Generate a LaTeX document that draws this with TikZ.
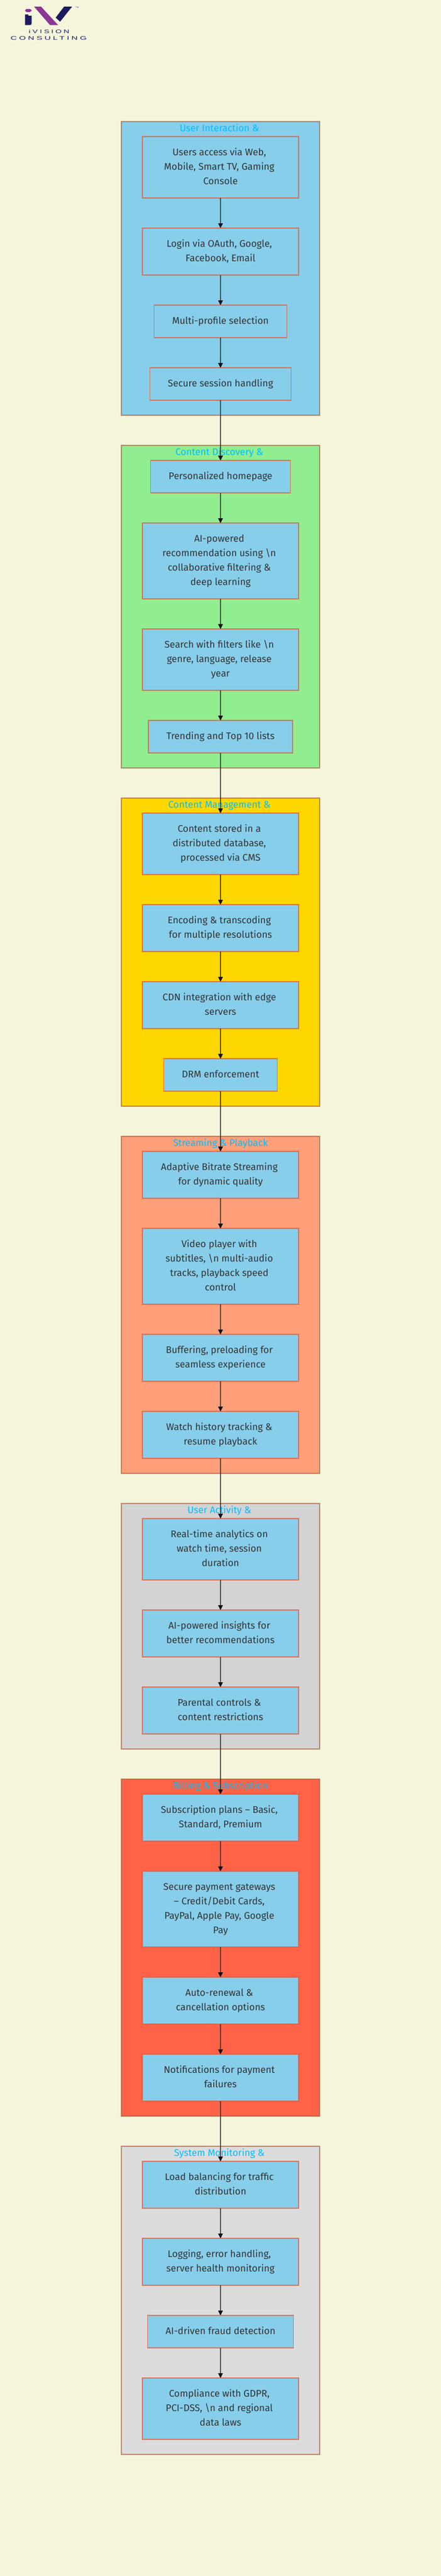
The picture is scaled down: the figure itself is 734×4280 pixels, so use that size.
\documentclass[tikz,border=0pt]{standalone}
\usepackage{fontspec}
\setmainfont{Fira Sans}
\newfontfamily\logofont[LetterSpace=25]{Liberation Sans}
\usetikzlibrary{positioning,arrows.meta}
\definecolor{pagecream}{HTML}{F5F5DC}
\definecolor{skyfill}{HTML}{87CEEB}
\definecolor{greenfill}{HTML}{90EE90}
\definecolor{goldfill}{HTML}{FFD700}
\definecolor{salmonfill}{HTML}{FFA07A}
\definecolor{grayfill}{HTML}{D3D3D3}
\definecolor{tomatofill}{HTML}{FF6347}
\definecolor{palefill}{HTML}{DCDCDC}
\definecolor{boxline}{HTML}{E8552F}
\definecolor{groupline}{HTML}{A0522D}
\definecolor{titleblue}{HTML}{00BFFF}
\definecolor{bodyink}{HTML}{333333}
\definecolor{tipink}{HTML}{10101C}
\definecolor{logonavy}{HTML}{1B1B5E}
\definecolor{logopurple}{HTML}{8B3594}
\newcommand{\wrapbr}{\kern3pt\strut\\\strut}

\begin{document}
\begin{tikzpicture}[
  x=.75pt,y=.75pt,
  node distance=37.5pt,
  every node/.style={outer sep=0pt,font=\fontsize{12}{18}\selectfont},
  groupbox/.style={draw=groupline,draw opacity=.6,line width=1.5pt,minimum width=247.5pt,inner sep=0pt},
  grouptitle/.style={text=titleblue,inner sep=0pt,execute at begin node=\strut},
  stepbox/.style={draw=boxline,draw opacity=.7,line width=1.1pt,fill=skyfill,text=bodyink,align=center,
    inner xsep=22.5pt,inner ysep=11.25pt,execute at begin node=\strut,execute at end node=\strut},
  widebox/.style={stepbox,minimum width=195pt},
  logotext/.style={text=logonavy,inner sep=0pt,font=\logofont\fontsize{6.4}{7}\selectfont},
  every path/.style={>={Triangle[length=6pt,width=6pt,fill=tipink,line width=0pt]}},
  flow/.style={->,draw=bodyink,draw opacity=.75,line width=.85pt},
  ]
  \useasboundingbox (0,0) rectangle (734,-4280);
  \fill[pagecream] (0,0) rectangle (734,-4280);
  % logo
  \fill[logopurple] (56.7,-11) -- (68.3,-11) -- (96.7,-41.7) -- (83.3,-41.7) -- cycle;
  \fill[logonavy] (106.7,-11) -- (120,-11) -- (100,-36) -- (92.7,-29.3) -- cycle;
  \fill[logopurple] (41.5,-17.3) -- (44,-15) -- (50,-15) -- (52.8,-17.3) -- (50,-20) -- (44,-20) -- cycle;
  \fill[logonavy] (41.5,-24) -- (41.5,-41.7) -- (50,-41.7) to[out=0,in=-90] (52.5,-39) -- (52.5,-26) -- (47,-26) -- (47,-24) -- cycle;
  \node[logotext,xscale=1.55] (ivision) at (81.7,-52.3) {iVISION};
  \node[logotext,xscale=1.7] (consulting) at (81,-63.3) {CONSULTING};
  \node[text=logonavy,inner sep=0pt,font=\logofont\fontsize{2.4}{3}\selectfont] (tm) at (128.3,-12.3) {TM};

  % user interaction
  \node[groupbox,fill=skyfill,minimum height=366pt,anchor=north] (g1) at (367,-202) {};
  \node[grouptitle,below=-.375pt of g1.north] (t1) {User Interaction \&\kern2.7pt};
  \node[widebox,below=18.75pt of g1.north] (access) {Users access via Web,\wrapbr Mobile, Smart TV, Gaming\wrapbr Console};
  \node[widebox,below=of access] (login) {Login via OAuth, Google,\wrapbr Facebook, Email};
  \node[stepbox,below=of login] (profile) {Multi-profile selection};
  \node[stepbox,below=of profile] (session) {Secure session handling};

  % content discovery
  \node[groupbox,fill=greenfill,minimum height=402pt,below=of g1] (g2) {};
  \node[grouptitle,below=-.375pt of g2.north] (t2) {Content Discovery \&\kern2.7pt};
  \node[stepbox,below=18.75pt of g2.north] (home) {Personalized homepage};
  \node[widebox,below=of home] (recommend) {AI-powered\wrapbr recommendation using \textbackslash n\wrapbr collaborative filtering \&\wrapbr deep learning};
  \node[widebox,below=of recommend] (search) {Search with filters like \textbackslash n\wrapbr genre, language, release\wrapbr year};
  \node[stepbox,below=of search] (trending) {Trending and Top 10 lists};

  % content management
  \node[groupbox,fill=goldfill,minimum height=384pt,below=of g2] (g3) {};
  \node[grouptitle,below=-.375pt of g3.north] (t3) {Content Management \&\kern2.7pt};
  \node[widebox,below=18.75pt of g3.north] (stored) {Content stored in a\wrapbr distributed database,\wrapbr processed via CMS};
  \node[widebox,below=of stored] (encoding) {Encoding \& transcoding\wrapbr for multiple resolutions};
  \node[widebox,below=of encoding] (cdn) {CDN integration with edge\wrapbr servers};
  \node[stepbox,below=of cdn] (drm) {DRM enforcement};

  % streaming
  \node[groupbox,fill=salmonfill,minimum height=420pt,below=of g3] (g4) {};
  \node[grouptitle,below=-.375pt of g4.north] (t4) {Streaming \& Playback};
  \node[widebox,below=18.75pt of g4.north] (bitrate) {Adaptive Bitrate Streaming\wrapbr for dynamic quality};
  \node[widebox,below=of bitrate] (player) {Video player with\wrapbr subtitles, \textbackslash n multi-audio\wrapbr tracks, playback speed\wrapbr control};
  \node[widebox,below=of player] (buffer) {Buffering, preloading for\wrapbr seamless experience};
  \node[widebox,below=of buffer] (history) {Watch history tracking \&\wrapbr resume playback};

  % user activity
  \node[groupbox,fill=grayfill,minimum height=306pt,below=of g4] (g5) {};
  \node[grouptitle,below=-.375pt of g5.north] (t5) {User Activity \&\kern2.7pt};
  \node[widebox,below=18.75pt of g5.north] (analytics) {Real-time analytics on\wrapbr watch time, session\wrapbr duration};
  \node[widebox,below=of analytics] (insights) {AI-powered insights for\wrapbr better recommendations};
  \node[widebox,below=of insights] (parental) {Parental controls \&\wrapbr content restrictions};

  % billing
  \node[groupbox,fill=tomatofill,minimum height=420pt,below=of g5] (g6) {};
  \node[grouptitle,below=-.375pt of g6.north] (t6) {Billing \& Subscription};
  \node[widebox,below=18.75pt of g6.north] (plans) {Subscription plans -- Basic,\wrapbr Standard, Premium};
  \node[widebox,below=of plans] (gateways) {Secure payment gateways\wrapbr -- Credit/Debit Cards,\wrapbr PayPal, Apple Pay, Google\wrapbr Pay};
  \node[widebox,below=of gateways] (renewal) {Auto-renewal \&\wrapbr cancellation options};
  \node[widebox,below=of renewal] (notify) {Notifications for payment\wrapbr failures};

  % system monitoring
  \node[groupbox,fill=palefill,minimum height=384pt,below=of g6] (g7) {};
  \node[grouptitle,below=-.375pt of g7.north] (t7) {System Monitoring \&\kern2.7pt};
  \node[widebox,below=18.75pt of g7.north] (balance) {Load balancing for traffic\wrapbr distribution};
  \node[widebox,below=of balance] (logging) {Logging, error handling,\wrapbr server health monitoring};
  \node[stepbox,below=of logging] (fraud) {AI-driven fraud detection};
  \node[widebox,below=of fraud] (compliance) {Compliance with GDPR,\wrapbr PCI-DSS, \textbackslash n and regional\wrapbr data laws};

  \path[flow]
  (access) edge (login)
  (login) edge (profile)
  (profile) edge (session)
  (session) edge (home)
  (home) edge (recommend)
  (recommend) edge (search)
  (search) edge (trending)
  (trending) edge (stored)
  (stored) edge (encoding)
  (encoding) edge (cdn)
  (cdn) edge (drm)
  (drm) edge (bitrate)
  (bitrate) edge (player)
  (player) edge (buffer)
  (buffer) edge (history)
  (history) edge (analytics)
  (analytics) edge (insights)
  (insights) edge (parental)
  (parental) edge (plans)
  (plans) edge (gateways)
  (gateways) edge (renewal)
  (renewal) edge (notify)
  (notify) edge (balance)
  (balance) edge (logging)
  (logging) edge (fraud)
  (fraud) edge (compliance);
\end{tikzpicture}
\end{document}
